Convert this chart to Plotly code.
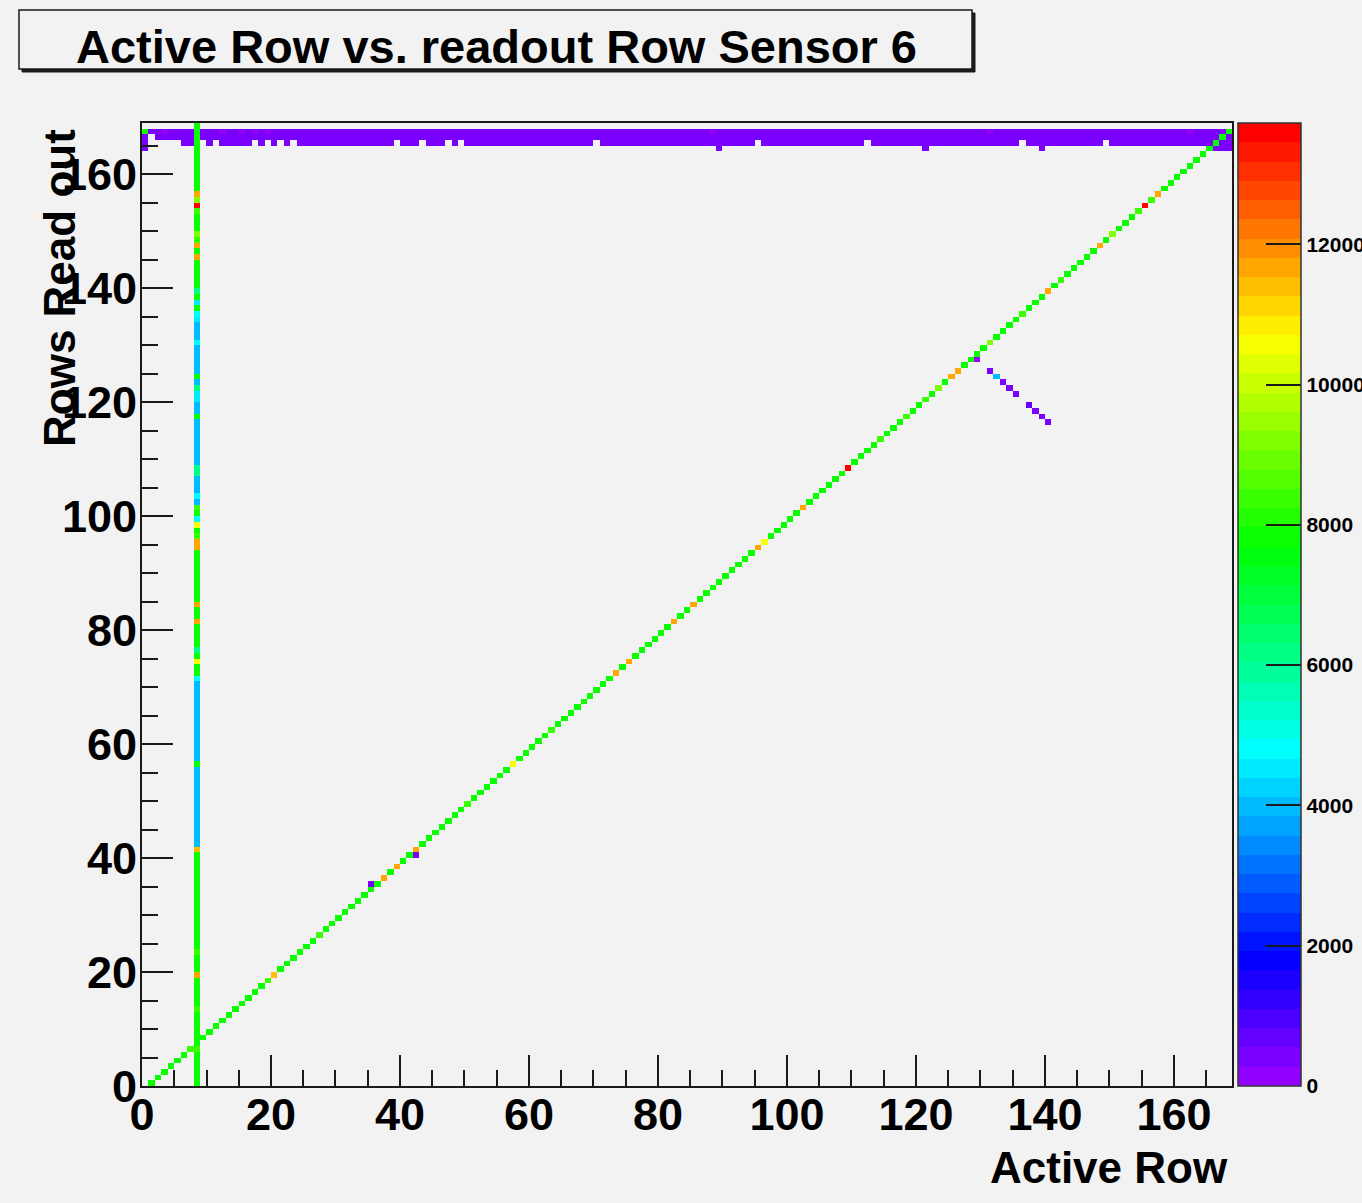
import colorsys
import numpy as np
import plotly.graph_objects as go

# ---------------- data ----------------
N_BINS_X = 169          # active rows 0..168
N_BINS_Y = 169          # readout rows 0..168
Z_MAX = 13728           # top of the colour axis

colorbar_ticks = [0, 2000, 4000, 6000, 8000, 10000, 12000]

# readout rows seen for the noisy active row 8 (rows 0..168)
col_active_row = 8
col_values = [
    7800, 7800, 7800, 7800, 7800, 7800, 8500, 7800, 7800, 7800,
    7800, 7800, 7800, 8500, 7800, 7800, 7800, 7800, 7800, 11650,
    7800, 7800, 7800, 8500, 7800, 7800, 7800, 7800, 7800, 7800,
    7800, 7800, 7800, 7800, 7800, 7800, 7800, 7800, 7800, 7800,
    7800, 11300, 4000, 4000, 4000, 4000, 4000, 4000, 4000, 4000,
    4000, 4000, 4000, 4000, 4000, 4000, 7800, 4000, 4000, 4000,
    4000, 4000, 4000, 4000, 4000, 4000, 4000, 4000, 4000, 4000,
    4000, 4800, 7800, 7800, 10600, 7800, 6200, 7800, 7800, 7800,
    7800, 11650, 7800, 7800, 11650, 7800, 7800, 7800, 7800, 7800,
    7800, 7800, 7800, 7800, 11650, 11650, 8500, 7800, 10600, 4800,
    7800, 8500, 4000, 4800, 4000, 4000, 4000, 6200, 6200, 4000,
    4000, 4000, 4000, 4000, 4000, 4000, 4000, 7800, 4000, 4000,
    4500, 4500, 6200, 4000, 7800, 4000, 4000, 4000, 4000, 4000,
    4800, 4000, 4000, 4000, 4500, 4800, 7800, 4500, 7800, 6200,
    7800, 7800, 7800, 7800, 7800, 11650, 7800, 11650, 8500, 9200,
    7800, 7800, 7800, 8500, 13650, 9200, 11650, 7800, 7800, 7800,
    7800, 7800, 7800, 7800, 7800, 7800, 7800, 7800, 7800,
]

# main correlation line: active row 1..168 read out as row 0..167
diag_active = list(range(1, 169))
diag_readout = list(range(0, 168))
diag_values = [
    7800, 7800, 7800, 7800, 7800, 7800, 8500, 7800, 7800, 7800,
    7800, 7800, 7800, 7800, 7800, 7800, 7800, 7800, 8500, 11300,
    7800, 7800, 7800, 7800, 7800, 7800, 8500, 7800, 7800, 7800,
    7800, 7800, 7800, 7800, 7800, 7800, 11650, 7800, 11650, 7800,
    7800, 11650, 7800, 7800, 7800, 7800, 7800, 7800, 7800, 8500,
    7800, 7800, 7800, 7800, 7800, 7800, 10600, 7800, 7800, 7800,
    7800, 7800, 8500, 7800, 7800, 7800, 7800, 7800, 7800, 7800,
    7800, 7800, 11650, 7800, 11650, 7800, 7800, 7800, 7800, 7800,
    7800, 11650, 7800, 7800, 11650, 7800, 7800, 7800, 7800, 7800,
    7800, 7800, 7800, 7800, 11650, 10600, 7800, 7800, 7800, 7800,
    7800, 11650, 7800, 7800, 7800, 7800, 7800, 7800, 13650, 7800,
    7800, 7800, 7800, 8500, 7800, 7800, 7800, 8500, 7800, 7800,
    8500, 7800, 9200, 7800, 11650, 11650, 7800, 7800, 7800, 7800,
    9200, 7800, 7800, 7800, 7800, 8500, 7800, 7800, 7800, 11650,
    7800, 8500, 7800, 7800, 7800, 7800, 7800, 11650, 7800, 9200,
    7800, 7800, 7800, 8500, 13650, 8500, 11650, 7800, 7800, 7800,
    7800, 7800, 7800, 7800, 7800, 7800, 7800, 7800,
]

# isolated low-count cells off the main line
odd_active = [35, 42, 129, 131, 132, 133, 134, 135, 137, 138, 139, 140]
odd_readout = [35, 40, 127, 125, 124, 123, 122, 121, 119, 118, 117, 116]
odd_values = [400, 400, 150, 400, 4000, 400, 400, 400, 700, 400, 400, 400]

# overflow band of readout rows 164..167: runs of active rows (inclusive)
band_value = 400
band_runs_row167 = [(0, 168)]
band_runs_row166 = [(0, 0), (2, 168)]
band_runs_row165 = [(0, 0), (6, 8), (10, 10), (12, 16), (18, 18), (20, 20),
                    (22, 22), (24, 38), (40, 42), (44, 46), (48, 48),
                    (50, 69), (71, 94), (96, 111), (113, 135), (137, 148),
                    (150, 168)]
band_runs_row164 = [(0, 0), (89, 89), (121, 121), (139, 139), (166, 168)]
band_light_active = [3, 12, 15, 17, 19, 88, 131, 162]   # top row, lowest level
band_light_value = 150
corner_active, corner_readout, corner_value = [0], [167], [7800]

# ---------------- build the 2-D histogram ----------------
z = np.full((N_BINS_Y, N_BINS_X), np.nan)
for row, runs in [(167, band_runs_row167), (166, band_runs_row166),
                  (165, band_runs_row165), (164, band_runs_row164)]:
    for a, b in runs:
        z[row, a:b + 1] = band_value
for a in band_light_active:
    z[167, a] = band_light_value
for a, r, v in zip(corner_active, corner_readout, corner_value):
    z[r, a] = v
for a, r, v in zip(diag_active, diag_readout, diag_values):
    z[r, a] = v
for a, r, v in zip(odd_active, odd_readout, odd_values):
    z[r, a] = v
for r, v in enumerate(col_values):
    z[r, col_active_row] = v

x_centers = np.arange(N_BINS_X) + 0.5
y_centers = np.arange(N_BINS_Y) + 0.5

# ROOT "pretty" palette: 50 HLS hues from violet to red
n_levels = 50
colorscale = []
for i in range(n_levels):
    hue = (280 - (i + 1) * 280 / n_levels) / 360.0
    r, g, b = colorsys.hls_to_rgb(hue, 0.5, 1.0)
    c = f"rgb({round(r * 255)},{round(g * 255)},{round(b * 255)})"
    colorscale.append([i / n_levels, c])
    colorscale.append([(i + 1) / n_levels, c])

FONT = "Liberation Sans, Arial, Helvetica, sans-serif"
BG = "#f2f2f2"
INK = "#1a1a1a"

W, H = 1362, 1203
ML, MR, MT, MB = 142, 130, 123, 117
PW, PH = W - ML - MR, H - MT - MB


def px(xp):
    return (xp - ML) / PW


def py(yp):
    return (H - MB - yp) / PH


fig = go.Figure(go.Heatmap(
    x=x_centers, y=y_centers, z=z,
    zmin=0, zmax=Z_MAX, colorscale=colorscale,
    hoverongaps=False,
    colorbar=dict(
        x=px(1238), xanchor="left", xpad=0, y=0.5, yanchor="middle", ypad=0,
        len=1, lenmode="fraction", thickness=63, thicknessmode="pixels",
        outlinewidth=1.5, outlinecolor="#333",
        tickmode="array", tickvals=colorbar_ticks,
        ticktext=[str(t) for t in colorbar_ticks],
        ticks="inside", ticklen=35, tickwidth=1.5, tickcolor=INK,
        tickfont=dict(family=FONT, size=21, color="black", weight="bold"),
    ),
))

axis_common = dict(
    range=[0, 169], showline=True, mirror=True, linecolor=INK, linewidth=2,
    ticks="inside", ticklen=31, tickwidth=1.5, tickcolor=INK,
    tick0=0, dtick=20, showgrid=False, zeroline=False,
    minor=dict(ticks="inside", ticklen=16, dtick=5, tick0=0,
               tickcolor=INK, tickwidth=1.5, showgrid=False),
    tickfont=dict(family=FONT, size=45, color="black", weight="bold"),
)

fig.update_layout(
    width=W, height=H,
    margin=dict(l=ML, r=MR, t=MT, b=MB, pad=0, autoexpand=False),
    paper_bgcolor=BG, plot_bgcolor=BG,
    xaxis=dict(**axis_common, ticklabelstandoff=-12),
    yaxis=dict(**axis_common, ticklabelstandoff=-6),
    showlegend=False,
    shapes=[
        dict(type="rect", xref="paper", yref="paper",
             x0=px(22), x1=px(975), y0=py(72), y1=py(13),
             line=dict(color=INK, width=1), fillcolor=INK, layer="above"),
        dict(type="rect", xref="paper", yref="paper",
             x0=px(19), x1=px(972), y0=py(69), y1=py(10),
             line=dict(color=INK, width=1.5), fillcolor=BG, layer="above"),
    ],
    annotations=[
        dict(text="Active Row vs. readout Row Sensor 6", xref="paper",
             yref="paper", x=px(496), y=py(47), xanchor="center",
             yanchor="middle", showarrow=False,
             font=dict(family=FONT, size=47, color="black", weight="bold")),
        dict(text="Active Row", xref="paper", yref="paper",
             x=px(1230), y=py(1167), xanchor="right", yanchor="middle",
             showarrow=False,
             font=dict(family=FONT, size=44, color="black", weight="bold")),
        dict(text="Rows Read out", xref="paper", yref="paper",
             x=px(59), y=py(127), xanchor="center", yanchor="top",
             textangle=-90, showarrow=False,
             font=dict(family=FONT, size=44, color="black", weight="bold")),
    ],
)

fig.write_html("out.html")
